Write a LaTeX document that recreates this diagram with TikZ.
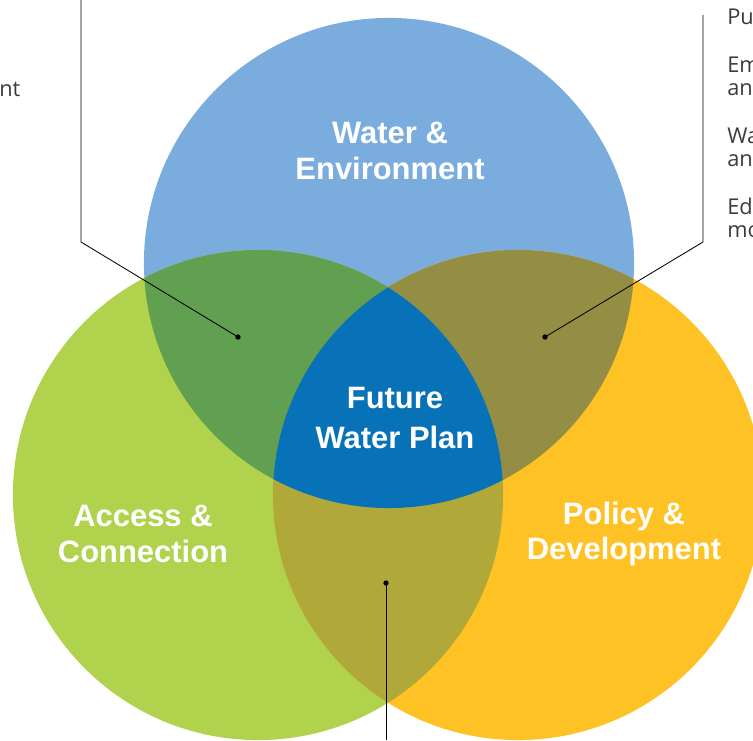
\documentclass[tikz,border=0pt]{standalone}
\usepackage{fontspec}
\setmainfont{Liberation Sans}
\newfontfamily\notefont{Open Sans}
\usetikzlibrary{positioning}
\definecolor{waterblue}{RGB}{122,173,221}
\definecolor{accessgreen}{RGB}{176,210,77}
\definecolor{policyyellow}{RGB}{254,194,36}
\definecolor{greenmix}{RGB}{97,160,81}
\definecolor{olivemix}{RGB}{148,141,68}
\definecolor{mustardmix}{RGB}{176,168,56}
\definecolor{planblue}{RGB}{8,114,184}
\definecolor{notegrey}{RGB}{60,60,60}
\tikzstyle{circlelabel} = [text=white, font=\fontsize{22}{25}\selectfont\bfseries, align=center]
\tikzstyle{sidenote} = [text=notegrey, font=\notefont\fontsize{15.5}{16.5}\selectfont, anchor=base west, inner sep=0pt]
\tikzstyle{leaderdot} = [circle, fill=black, inner sep=0pt, minimum size=3.8pt]
\tikzstyle{leader} = [black, line width=0.6pt]

\begin{document}
\begin{tikzpicture}[x=0.025cm, y=-0.025cm]
\useasboundingbox (0,0) rectangle (753,740);
\def\rad{6.125cm}

% the three circles
\fill[waterblue] (389,263) circle[radius=\rad];
\fill[accessgreen] (258,495) circle[radius=\rad];
\fill[policyyellow] (518,495) circle[radius=\rad];

% overlaps
\begin{scope}
\clip (389,263) circle[radius=\rad];
\fill[greenmix] (258,495) circle[radius=\rad];
\fill[olivemix] (518,495) circle[radius=\rad];
\end{scope}
\begin{scope}
\clip (258,495) circle[radius=\rad];
\fill[mustardmix] (518,495) circle[radius=\rad];
\end{scope}
\begin{scope}
\clip (389,263) circle[radius=\rad];
\clip (258,495) circle[radius=\rad];
\fill[planblue] (518,495) circle[radius=\rad];
\end{scope}

\node (water) [circlelabel] at (390,151) {Water \&\\Environment};
\node (access) [circlelabel] at (143,534) {Access \&\\Connection};
\node (policy) [circlelabel] at (624,534) {Policy \&\\Development};
\node (plan) [circlelabel, font=\fontsize{22}{28}\selectfont\bfseries] at (395,418) {Future\\Water Plan};

% leader lines
\node (dotwest) [leaderdot] at (238,337) {};
\node (doteast) [leaderdot] at (545,337) {};
\node (dotsouth) [leaderdot] at (386,583) {};
\coordinate (westtop) at (81,0);
\coordinate (westbend) at (81,242);
\coordinate (easttop) at (703,15);
\coordinate (eastbend) at (703,242);
\coordinate (southend) at (386,740);

\draw [leader] (westtop) -- (westbend) -- (dotwest.center);
\draw [leader] (easttop) -- (eastbend) -- (doteast.center);
\draw [leader] (dotsouth.center) -- (southend);

% notes cut by the edge
\node (notewest) [sidenote] at (-1,97) {nt};
\node (noteone) [sidenote] at (727,25) {Pu};
\node (notetwo) [sidenote] at (727,73) {Em};
\node (notetwob) [sidenote] at (727,96) {an};
\node (notethree) [sidenote] at (727,144) {Wa};
\node (notethreeb) [sidenote] at (727,167) {an};
\node (notefour) [sidenote] at (727,215) {Ed};
\node (notefourb) [sidenote] at (727,238) {mo};

\end{tikzpicture}
\end{document}
